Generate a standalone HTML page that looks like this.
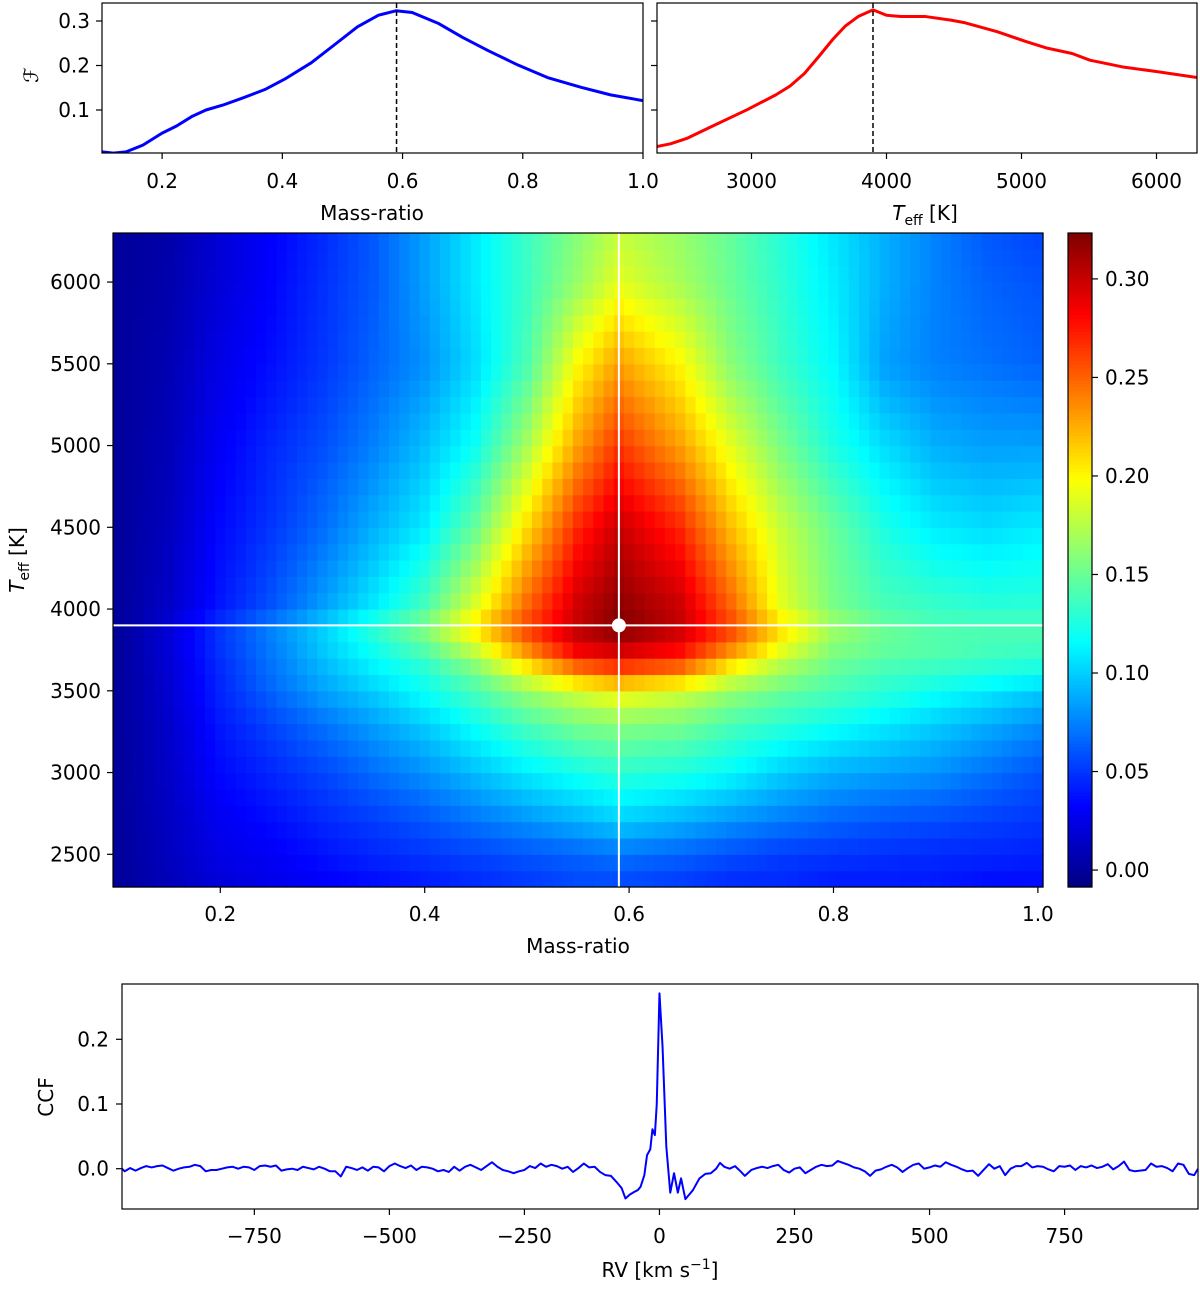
<!DOCTYPE html>
<html><head><meta charset="utf-8"><style>
html,body{margin:0;padding:0;background:#fff}
svg text{font-family:"DejaVu Sans","Liberation Sans",sans-serif;fill:#000}
</style></head><body>
<svg id="fig" xmlns="http://www.w3.org/2000/svg" width="1200" height="1284" viewBox="0 0 1200 1284">
<defs>
<clipPath id="cTL"><rect x="102" y="3" width="541" height="150"/></clipPath>
<clipPath id="cTR"><rect x="657" y="3" width="540" height="150"/></clipPath>
<clipPath id="cB"><rect x="122" y="984" width="1076" height="225"/></clipPath>
</defs>
<g id="heat"></g>
<g id="layer"></g>
</svg>
<script>
// ---------- data ----------
const qCurveX=[0.1,0.119,0.14,0.168,0.2,0.224,0.249,0.273,0.301,0.336,0.371,0.406,0.448,0.49,0.525,0.56,0.589,0.616,0.659,0.7,0.743,0.792,0.841,0.897,0.946,1.0];
const qCurveF=[0.006,0.003,0.006,0.021,0.048,0.064,0.085,0.1,0.111,0.128,0.146,0.171,0.206,0.25,0.287,0.313,0.323,0.319,0.295,0.263,0.233,0.201,0.173,0.151,0.134,0.121];
const tCurveX=[2300,2400,2520,2705,2970,3180,3286,3392,3498,3603,3696,3790,3900,4000,4106,4290,4476,4582,4820,5031,5190,5375,5507,5745,6010,6300];
const tCurveF=[0.018,0.024,0.036,0.063,0.101,0.134,0.154,0.182,0.22,0.259,0.289,0.31,0.325,0.313,0.31,0.31,0.302,0.296,0.276,0.254,0.239,0.227,0.212,0.197,0.186,0.173];
const bestQ=0.59, bestT=3900;
const gridQ=[0.1,0.15,0.2,0.25,0.3,0.35,0.4,0.45,0.5,0.55,0.59,0.65,0.7,0.75,0.8,0.85,0.9,0.95,1.0];
const gridT=[2300,2500,2700,3000,3300,3500,3600,3700,3800,3900,4000,4500,5000,5500,6000,6300];
const gridF=[
[0.0,0.01,0.02,0.025,0.03,0.035,0.04,0.045,0.05,0.055,0.055,0.05,0.045,0.045,0.04,0.04,0.04,0.035,0.035],
[0.0,0.012,0.025,0.03,0.038,0.045,0.05,0.055,0.06,0.065,0.07,0.065,0.058,0.052,0.05,0.048,0.046,0.045,0.043],
[0.0,0.013,0.028,0.036,0.045,0.052,0.06,0.07,0.08,0.09,0.10,0.09,0.08,0.072,0.065,0.06,0.057,0.053,0.05],
[0.0,0.015,0.035,0.045,0.055,0.068,0.08,0.095,0.11,0.122,0.13,0.125,0.115,0.1,0.09,0.085,0.08,0.07,0.06],
[0.0,0.016,0.04,0.055,0.07,0.085,0.10,0.12,0.14,0.155,0.16,0.155,0.14,0.13,0.12,0.11,0.1,0.09,0.08],
[0.0,0.018,0.045,0.065,0.085,0.10,0.12,0.14,0.165,0.185,0.20,0.185,0.165,0.15,0.14,0.13,0.12,0.11,0.10],
[0.0,0.018,0.045,0.07,0.09,0.11,0.125,0.15,0.19,0.23,0.245,0.23,0.19,0.165,0.145,0.135,0.13,0.125,0.12],
[0.0,0.02,0.048,0.07,0.095,0.115,0.135,0.17,0.22,0.27,0.285,0.27,0.22,0.18,0.155,0.145,0.14,0.135,0.13],
[0.0,0.02,0.05,0.075,0.10,0.125,0.15,0.19,0.25,0.30,0.31,0.29,0.25,0.20,0.16,0.15,0.145,0.14,0.14],
[0.0,0.02,0.05,0.075,0.10,0.13,0.16,0.21,0.26,0.30,0.323,0.30,0.26,0.21,0.17,0.15,0.14,0.14,0.14],
[0.0,0.015,0.04,0.06,0.085,0.11,0.14,0.19,0.25,0.30,0.32,0.30,0.25,0.19,0.155,0.14,0.135,0.13,0.13],
[0.0,0.012,0.035,0.05,0.068,0.09,0.11,0.15,0.21,0.27,0.30,0.27,0.22,0.18,0.15,0.125,0.11,0.105,0.11],
[0.0,0.01,0.03,0.045,0.058,0.075,0.095,0.12,0.17,0.23,0.265,0.23,0.19,0.155,0.125,0.105,0.09,0.085,0.085],
[0.0,0.008,0.025,0.037,0.05,0.065,0.08,0.105,0.14,0.20,0.23,0.20,0.16,0.135,0.115,0.085,0.075,0.07,0.065],
[0.0,0.006,0.02,0.033,0.048,0.062,0.085,0.11,0.135,0.165,0.19,0.17,0.15,0.13,0.11,0.09,0.075,0.065,0.06],
[0.0,0.005,0.02,0.032,0.046,0.062,0.085,0.11,0.135,0.16,0.18,0.165,0.148,0.128,0.108,0.09,0.075,0.062,0.055]];
const ccfRV=[-995,-990,-980,-970,-960,-950,-940,-930,-920,-910,-900,-890,-880,-870,-860,-850,-840,-830,-820,-810,-800,-790,-780,-770,-760,-750,-740,-730,-720,-710,-700,-690,-680,-670,-660,-650,-640,-630,-620,-610,-600,-590,-580,-570,-560,-550,-540,-530,-520,-510,-500,-490,-480,-470,-460,-450,-440,-430,-420,-410,-400,-390,-380,-370,-360,-350,-340,-330,-320,-310,-300,-290,-280,-270,-260,-250,-240,-230,-220,-210,-200,-190,-180,-170,-160,-150,-140,-130,-120,-110,-100,-90,-80,-70,-63,-55,-47,-40,-35,-28,-23,-17,-13,-8.5,-5,0,5.7,12.7,20,27,34,40,48,55,62,74,85,95,105,112,120,130,140,150,158,170,180,190,200,210,220,230,240,250,260,270,280,290,300,310,320,330,340,350,360,370,380,390,400,410,420,430,440,450,460,470,480,490,500,510,520,530,540,550,560,570,580,590,600,610,620,630,640,650,660,670,680,690,700,710,720,730,740,750,760,770,780,790,800,810,820,830,840,850,860,870,880,890,900,910,920,930,940,950,960,970,980,990,997];
const ccfVal=[0.0,-0.004,0.001,-0.003,0.001,0.004,0.002,0.004,0.005,0.001,-0.003,0.0,0.002,0.003,0.006,0.004,-0.004,-0.002,-0.002,0.0,0.002,0.003,0.0,0.003,0.002,-0.002,0.004,0.005,0.003,0.005,-0.003,-0.001,0.0,-0.002,0.003,0.001,-0.001,0.003,0.0,-0.004,-0.004,-0.012,0.003,0.001,-0.002,0.002,-0.003,0.003,0.002,-0.004,0.004,0.008,0.004,0.001,0.005,-0.002,0.003,0.002,0.0,-0.004,-0.002,-0.005,0.003,-0.003,0.003,0.006,0.002,-0.002,0.004,0.01,0.003,-0.002,-0.004,-0.007,-0.004,-0.002,0.004,0.001,0.008,0.003,0.006,0.004,0.0,0.003,-0.005,0.001,0.008,0.002,0.003,-0.005,-0.01,-0.011,-0.02,-0.03,-0.046,-0.04,-0.036,-0.033,-0.028,-0.01,0.021,0.03,0.061,0.052,0.1,0.271,0.189,0.034,-0.037,-0.007,-0.037,-0.015,-0.047,-0.04,-0.033,-0.015,-0.008,-0.007,0.0,0.009,0.003,0.0,0.004,-0.004,-0.011,-0.002,0.001,0.003,0.001,0.004,0.006,-0.002,-0.006,0.0,0.002,-0.007,-0.002,0.003,0.006,0.004,0.005,0.012,0.009,0.006,0.002,0.0,-0.004,-0.011,-0.003,-0.001,0.003,0.006,0.002,-0.005,0.001,0.006,0.008,0.0,0.002,0.005,0.003,0.01,0.006,0.003,-0.001,-0.004,-0.003,-0.011,-0.002,0.007,0.0,0.004,-0.01,0.0,0.004,0.004,0.009,0.002,0.004,0.003,-0.001,-0.004,0.004,0.003,0.005,-0.002,0.004,0.002,0.005,0.001,0.003,0.007,-0.001,0.004,0.011,-0.002,-0.004,-0.003,-0.002,0.008,0.003,0.004,0.001,-0.004,0.008,0.006,-0.008,-0.01,0.0];
const tlXTicks=[0.2,0.4,0.6,0.8,1.0];
const tlYTicks=[0.1,0.2,0.3];
const trXTicks=[3000,4000,5000,6000];
const hmXTicks=[0.2,0.4,0.6,0.8,1.0];
const hmYTicks=[2500,3000,3500,4000,4500,5000,5500,6000];
const cbTicks=[0.0,0.05,0.1,0.15,0.2,0.25,0.3];
const bXTicks=[-750,-500,-250,0,250,500,750];
const bYTicks=[0.0,0.1,0.2];

// ---------- scales ----------
const lin=(d0,d1,r0,r1)=>v=>r0+(v-d0)/(d1-d0)*(r1-r0);
const tlX=lin(0.1,1.0,102,643), fY=lin(0,0.3,154.5,21);
const trX=lin(2300,6300,657,1197);
const hX=lin(0.095,1.005,113,1043), hY=lin(2300,6300,887,233);
const vmin=-0.0086, vmax=0.3233;
const cbY=lin(vmin,vmax,887,233);
const bX=lin(-995,997,122,1198), bY=lin(0,0.1,1168.7,1104);

const NS='http://www.w3.org/2000/svg';
const layer=document.getElementById('layer');
function el(tag,attrs,parent,txt){const e=document.createElementNS(NS,tag);for(const k in attrs)e.setAttribute(k,attrs[k]);if(txt!==undefined)e.textContent=txt;(parent||layer).appendChild(e);return e;}
function jet(v){let f=(v-vmin)/(vmax-vmin);f=Math.max(0,Math.min(1,f));const c=x=>Math.round(255*Math.max(0,Math.min(1,x)));return `rgb(${c(1.5-Math.abs(4*f-3))},${c(1.5-Math.abs(4*f-2))},${c(1.5-Math.abs(4*f-1))})`;}
function idx(arr,v){let i=0;while(i<arr.length-2&&v>arr[i+1])i++;return i;}
function gridVal(q,T){const i=idx(gridT,T),j=idx(gridQ,q);
 let tT=(T-gridT[i])/(gridT[i+1]-gridT[i]),tQ=(q-gridQ[j])/(gridQ[j+1]-gridQ[j]);
 tT=Math.max(0,Math.min(1,tT));tQ=Math.max(0,Math.min(1,tQ));
 const a=gridF[i][j],b=gridF[i][j+1],c=gridF[i+1][j],d=gridF[i+1][j+1];
 return (a*(1-tQ)+b*tQ)*(1-tT)+(c*(1-tQ)+d*tQ)*tT;}
function path(xs,ys,sx,sy){return xs.map((v,i)=>(i?'L':'M')+sx(v).toFixed(2)+','+sy(ys[i]).toFixed(2)).join('');}

// ---------- heatmap ----------
const heat=document.getElementById('heat');
for(let r=0;r<40;r++){const T=2350+100*r;
 for(let c=0;c<91;c++){const q=0.1+0.01*c;
  const x0=hX(q-0.005),x1=hX(q+0.005),y0=hY(T+50),y1=hY(T-50);
  const rc=el('rect',{x:x0.toFixed(2),y:y0.toFixed(2),width:(x1-x0+0.6).toFixed(2),height:(y1-y0+0.6).toFixed(2),fill:jet(gridVal(q,T))},heat);
  
  
 }}
let e;
e=el('line',{x1:hX(bestQ),x2:hX(bestQ),y1:233,y2:887,stroke:'#fff','stroke-width':2});

e=el('line',{x1:113,x2:1043,y1:hY(bestT),y2:hY(bestT),stroke:'#fff','stroke-width':2});

e=el('circle',{cx:hX(bestQ),cy:hY(bestT),r:7,fill:'#fff'});

e=el('rect',{x:113,y:233,width:930,height:654,fill:'none',stroke:'#000','stroke-width':1.2});

hmXTicks.forEach(t=>{const x=hX(t);el('line',{x1:x,x2:x,y1:887,y2:893,stroke:'#000','stroke-width':1.2});
 e=el('text',{x:x,y:921,'font-size':20,'text-anchor':'middle'},layer,t.toFixed(1));
 });
hmYTicks.forEach(t=>{const y=hY(t);el('line',{x1:107,x2:113,y1:y,y2:y,stroke:'#000','stroke-width':1.2});
 e=el('text',{x:101,y:y+7,'font-size':20,'text-anchor':'end'},layer,String(t));
 });
e=el('text',{x:578,y:953,'font-size':20,'text-anchor':'middle'},layer,'Mass-ratio');

e=el('text',{x:0,y:0,'font-size':20,'text-anchor':'middle',transform:'translate(24,560) rotate(-90)'},layer);

e.innerHTML='<tspan font-style="italic">T</tspan><tspan font-size="14" dy="5">eff</tspan><tspan dy="-5"> [K]</tspan>';

// ---------- colorbar ----------
for(let i=0;i<200;i++){const v0=vmin+(vmax-vmin)*i/200,v1=vmin+(vmax-vmin)*(i+1)/200;
 e=el('rect',{x:1068,y:cbY(v1).toFixed(2),width:24,height:(cbY(v0)-cbY(v1)+0.6).toFixed(2),fill:jet((v0+v1)/2)});
 }
e=el('rect',{x:1068,y:233,width:24,height:654,fill:'none',stroke:'#000','stroke-width':1.2});

cbTicks.forEach(t=>{const y=cbY(t);el('line',{x1:1092,x2:1098,y1:y,y2:y,stroke:'#000','stroke-width':1.2});
 e=el('text',{x:1105,y:y+7,'font-size':20},layer,t.toFixed(2));
 });

// ---------- top-left ----------
e=el('path',{d:path(qCurveX,qCurveF,tlX,fY),fill:'none',stroke:'#0000ff','stroke-width':3,'clip-path':'url(#cTL)','stroke-linejoin':'round'});

e=el('line',{x1:tlX(bestQ),x2:tlX(bestQ),y1:3,y2:153,stroke:'#000','stroke-width':1.5,'stroke-dasharray':'5,3'});

e=el('rect',{x:102,y:3,width:541,height:150,fill:'none',stroke:'#000','stroke-width':1.2});

tlXTicks.forEach(t=>{const x=tlX(t);el('line',{x1:x,x2:x,y1:153,y2:159,stroke:'#000','stroke-width':1.2});
 e=el('text',{x:x,y:188,'font-size':20,'text-anchor':'middle'},layer,t.toFixed(1));
 });
tlYTicks.forEach(t=>{const y=fY(t);el('line',{x1:96,x2:102,y1:y,y2:y,stroke:'#000','stroke-width':1.2});
 e=el('text',{x:90,y:y+7,'font-size':20,'text-anchor':'end'},layer,t.toFixed(1));
 });
e=el('text',{x:372,y:220,'font-size':20,'text-anchor':'middle'},layer,'Mass-ratio');

e=el('text',{x:0,y:0,'font-size':20,'font-style':'italic','text-anchor':'middle',transform:'translate(38,75) rotate(-90)','font-family':'"DejaVu Serif",serif'},layer,'ℱ');


// ---------- top-right ----------
e=el('path',{d:path(tCurveX,tCurveF,trX,fY),fill:'none',stroke:'#ff0000','stroke-width':3,'clip-path':'url(#cTR)','stroke-linejoin':'round'});

e=el('line',{x1:trX(bestT),x2:trX(bestT),y1:3,y2:153,stroke:'#000','stroke-width':1.5,'stroke-dasharray':'5,3'});

e=el('rect',{x:657,y:3,width:540,height:150,fill:'none',stroke:'#000','stroke-width':1.2});

trXTicks.forEach(t=>{const x=trX(t);el('line',{x1:x,x2:x,y1:153,y2:159,stroke:'#000','stroke-width':1.2});
 e=el('text',{x:x,y:188,'font-size':20,'text-anchor':'middle'},layer,String(t));
 });
tlYTicks.forEach(t=>{const y=fY(t);el('line',{x1:651,x2:657,y1:y,y2:y,stroke:'#000','stroke-width':1.2});});
e=el('text',{x:0,y:0,'font-size':20,'text-anchor':'middle',transform:'translate(925,220)'},layer);

e.innerHTML='<tspan font-style="italic">T</tspan><tspan font-size="14" dy="5">eff</tspan><tspan dy="-5"> [K]</tspan>';

// ---------- bottom CCF ----------
e=el('path',{d:path(ccfRV,ccfVal,bX,bY),fill:'none',stroke:'#0000ff','stroke-width':2,'clip-path':'url(#cB)','stroke-linejoin':'round'});

e=el('rect',{x:122,y:984,width:1076,height:225,fill:'none',stroke:'#000','stroke-width':1.2});

bXTicks.forEach(t=>{const x=bX(t);el('line',{x1:x,x2:x,y1:1209,y2:1215,stroke:'#000','stroke-width':1.2});
 e=el('text',{x:x,y:1243,'font-size':20,'text-anchor':'middle'},layer,t<0?'\u2212'+Math.abs(t):String(t));
 });
bYTicks.forEach(t=>{const y=bY(t);el('line',{x1:116,x2:122,y1:y,y2:y,stroke:'#000','stroke-width':1.2});
 e=el('text',{x:109,y:y+7,'font-size':20,'text-anchor':'end'},layer,t.toFixed(1));
 });
e=el('text',{x:660,y:1277,'font-size':20,'text-anchor':'middle'},layer);

e.innerHTML='RV [km s<tspan font-size="14" dy="-8">\u22121</tspan><tspan dy="8">]</tspan>';
e=el('text',{x:0,y:0,'font-size':20,'text-anchor':'middle',transform:'translate(53,1097) rotate(-90)'},layer,'CCF');

</script>
</body></html>
